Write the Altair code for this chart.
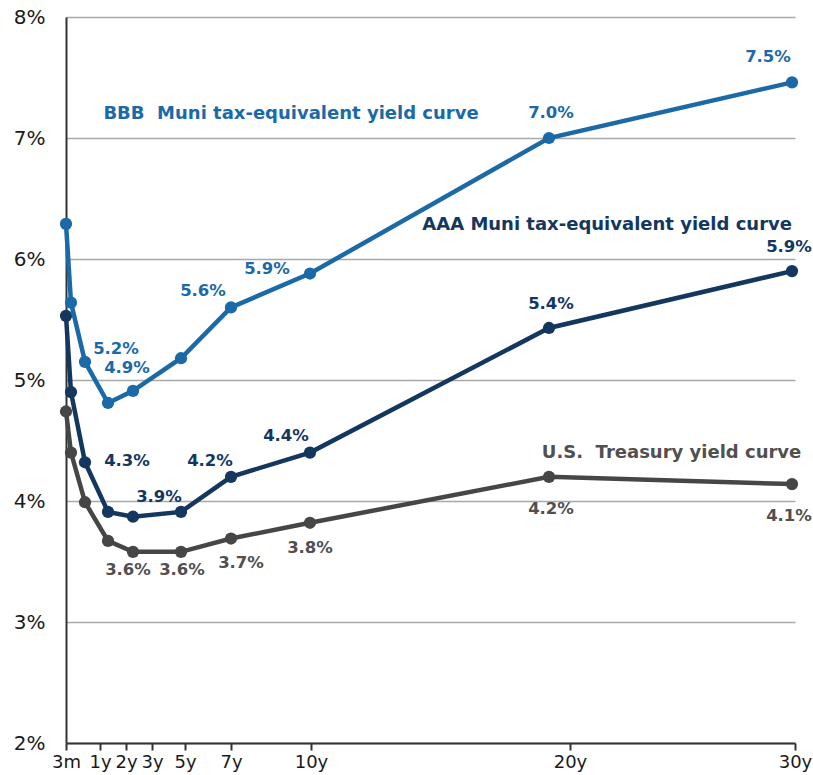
import altair as alt
import pandas as pd

# Curve maturities (years) and yields in percent
maturity_names = ["3m", "6m", "1y", "2y", "3y", "5y", "7y", "10y", "20y", "30y"]
maturity_years = [0.25, 0.5, 1, 2, 3, 5, 7, 10, 20, 30]
bbb_muni_te = [6.29, 5.64, 5.15, 4.81, 4.91, 5.18, 5.60, 5.88, 7.00, 7.46]
aaa_muni_te = [5.53, 4.90, 4.32, 3.91, 3.87, 3.91, 4.20, 4.40, 5.43, 5.90]
us_treasury = [4.74, 4.40, 3.99, 3.67, 3.58, 3.58, 3.69, 3.82, 4.20, 4.14]

# Maturity labels shown on the horizontal axis
tick_names = ["3m", "1y", "2y", "3y", "5y", "7y", "10y", "20y", "30y"]

# Curve names and where their captions sit (years, percent)
series_keys = ["UST", "AAA", "BBB"]
series_values = {"UST": us_treasury, "AAA": aaa_muni_te, "BBB": bbb_muni_te}
captions = ["U.S.\u00a0 Treasury yield curve",
            "AAA Muni tax-equivalent yield curve",
            "BBB\u00a0 Muni tax-equivalent yield curve"]
caption_years = [19.7, 14.7, 1.8]
caption_pct = [4.40, 6.28, 7.20]

# ---- layout / style ----
W, H = 729, 726
COLORS = {"BBB": "#1b6aa7", "AAA": "#14375f", "UST": "#464646"}
LABEL_COLORS = {"BBB": "#1b6aa7", "AAA": "#14375f", "UST": "#505050"}
# piecewise horizontal spacing of the curve points and of the axis ticks (px)
POINT_PX = [0, 5, 19, 42, 67, 115, 165, 244, 483, 726]
TICK_PX = [0, 34, 60, 86, 119, 165, 245, 504, 729]
# value labels: point index -> (dx, dy) nudge in pixels
LABEL_NUDGE = {
    "BBB": {4: (-6, -23), 5: (-65, -9), 6: (-28, -16), 7: (-43, -5), 8: (2, -25), 9: (-24, -25)},
    "AAA": {2: (42, -1), 5: (-22, -15), 6: (-21, -16), 7: (-24, -17), 8: (2, -24), 9: (-3, -24)},
    "UST": {4: (-5, 18), 5: (1, 18), 6: (10, 24), 7: (0, 25), 8: (2, 32), 9: (-3, 32)},
}
FONT = "DejaVu Sans"


def px_to_years(p):
    """Invert the piecewise maturity scale (extrapolating past the ends)."""
    for k in range(len(POINT_PX) - 1):
        if p <= POINT_PX[k + 1] or k == len(POINT_PX) - 2:
            p0, p1 = POINT_PX[k], POINT_PX[k + 1]
            y0, y1 = maturity_years[k], maturity_years[k + 1]
            return y0 + (p - p0) * (y1 - y0) / (p1 - p0)


# axis tick positions expressed on the maturity scale
tick_pos = [round(px_to_years(p), 4) for p in TICK_PX]
label_expr = "'" + tick_names[-1] + "'"
for k in range(len(tick_pos) - 2, -1, -1):
    mid = (tick_pos[k] + tick_pos[k + 1]) / 2
    label_expr = f"datum.value < {mid:.4f} ? '{tick_names[k]}' : ({label_expr})"

# the scale runs on to the last tick with the slope of its final segment
x_domain = maturity_years + [tick_pos[-1]]
x_range = POINT_PX + [TICK_PX[-1]]

rows = []
for key in series_keys:
    for i, (name, yrs, v) in enumerate(zip(maturity_names, maturity_years, series_values[key])):
        rows.append({"series": key, "idx": i, "maturity": name, "years": yrs, "pct": v})
df = pd.DataFrame(rows)

cap_df = pd.DataFrame({"series": series_keys, "text": captions,
                       "years": caption_years, "pct": caption_pct})

x_enc = alt.X("years:Q",
              scale=alt.Scale(domain=x_domain, range=x_range, nice=False, zero=False),
              axis=alt.Axis(values=tick_pos, labelExpr=label_expr, title=None, grid=False,
                            domainColor="#333333", domainWidth=2, tickColor="#333333",
                            tickWidth=2, tickSize=7, labelPadding=3, labelFont=FONT,
                            labelFontSize=18, labelColor="#1a1a1a",
                            labelFlush=False, labelOverlap=False))
y_enc = alt.Y("pct:Q",
              scale=alt.Scale(domain=[2, 8], nice=False, zero=False),
              axis=alt.Axis(values=[2, 3, 4, 5, 6, 7, 8], labelExpr="datum.value + '%'",
                            grid=True, gridColor="#a9a9a9", gridWidth=1.3,
                            domainColor="#333333", domainWidth=2, ticks=False,
                            labelPadding=21, labelFont=FONT, labelFontSize=20,
                            labelColor="#1a1a1a", title=None))

layers = []
base = alt.Chart(df)
for key in series_keys:
    sub = base.transform_filter(alt.datum.series == key)
    layers.append(sub.mark_line(color=COLORS[key], strokeWidth=4.5).encode(
        x=x_enc, y=y_enc, order="idx:Q"))
    layers.append(sub.mark_circle(color=COLORS[key], size=150, opacity=1).encode(
        x=x_enc, y=y_enc))

for key in series_keys:
    for idx, (dx, dy) in LABEL_NUDGE[key].items():
        layers.append(
            base.transform_filter((alt.datum.series == key) & (alt.datum.idx == idx))
            .transform_calculate(label="format(datum.pct, '.1f') + '%'")
            .mark_text(dx=dx, dy=dy, font=FONT, fontSize=16.5, fontWeight="bold",
                       color=LABEL_COLORS[key], align="center", baseline="middle")
            .encode(x=x_enc, y=y_enc, text="label:N")
        )

for key in series_keys:
    layers.append(
        alt.Chart(cap_df).transform_filter(alt.datum.series == key)
        .mark_text(font=FONT, fontSize=18, fontWeight="bold", color=LABEL_COLORS[key],
                   align="left", baseline="middle")
        .encode(x=x_enc, y=y_enc, text="text:N")
    )

chart = (
    alt.layer(*layers)
    .properties(width=W, height=H,
                background="white",
                autosize=alt.AutoSizeParams(type="none"),
                padding={"left": 66, "top": 17, "right": 18, "bottom": 32})
    .configure_view(stroke="transparent", strokeWidth=0)
)

chart.save("out.html", embed_options={"renderer": "svg", "actions": False})
